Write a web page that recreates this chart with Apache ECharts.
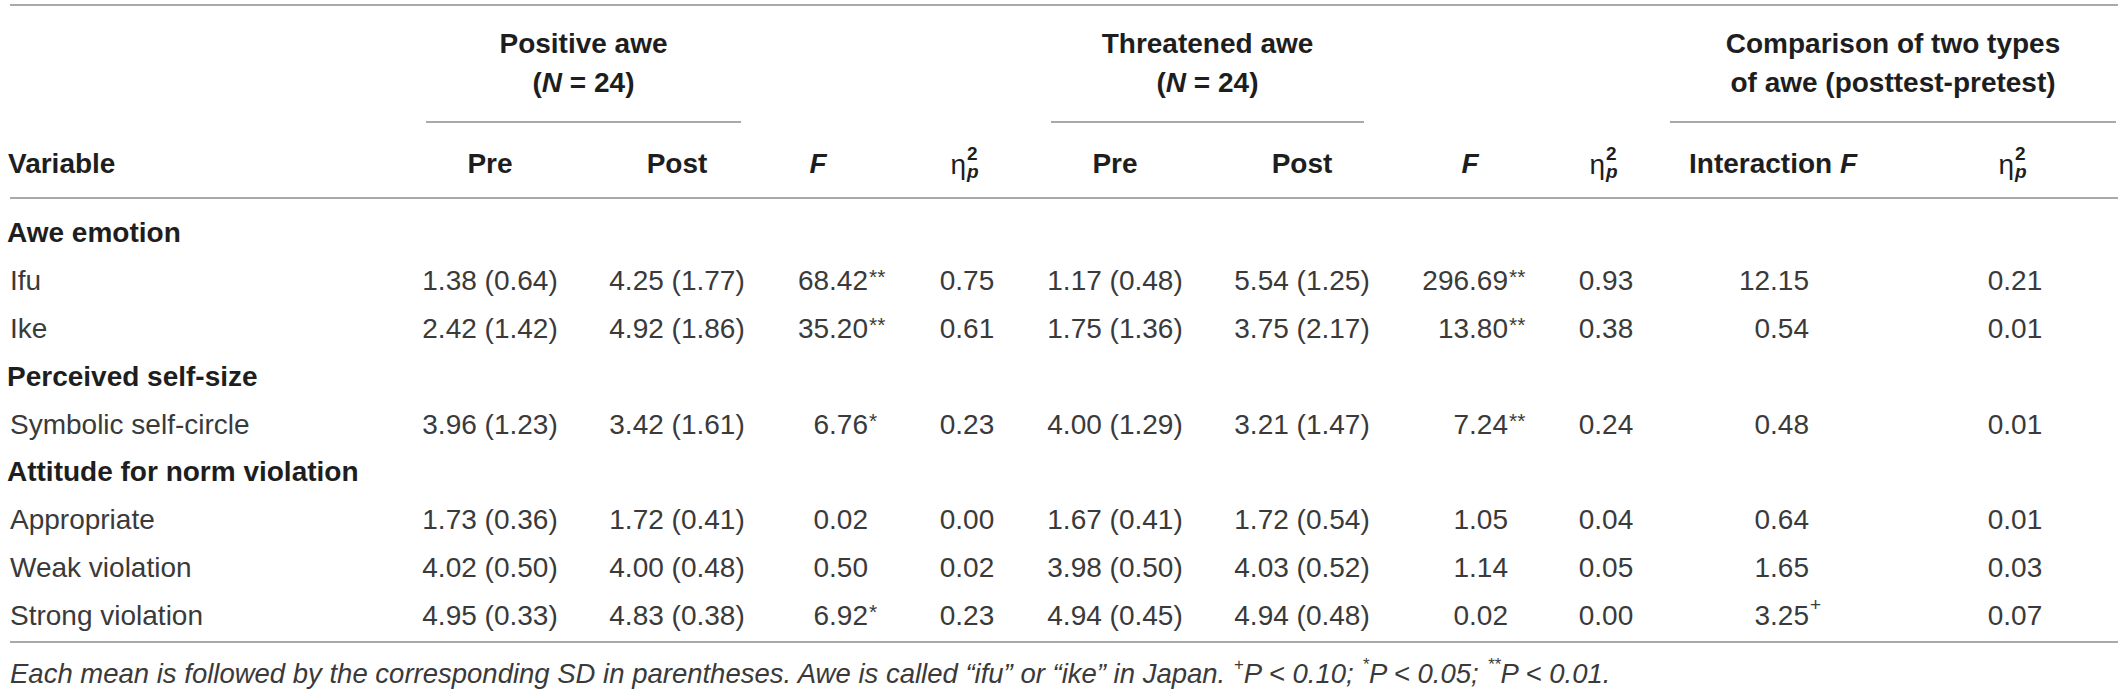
<!DOCTYPE html>
<html>
<head>
<meta charset="utf-8">
<script src="https://cdn.jsdelivr.net/npm/echarts@6/dist/echarts.min.js"></script>
<style>
  html, body { margin: 0; padding: 0; background: #fff; }
  #main { width: 2122px; height: 699px; }
</style>
</head>
<body>
<div id="main"></div>
<script>
// table rows (group headings have no values)
var rowLabels = ['Awe emotion', 'Ifu', 'Ike', 'Perceived self-size', 'Symbolic self-circle',
  'Attitude for norm violation', 'Appropriate', 'Weak violation', 'Strong violation'];
var groupRow = [true, false, false, true, false, true, false, false, false];

// positive awe (N = 24)
var posPreMean  = [null, 1.38, 2.42, null, 3.96, null, 1.73, 4.02, 4.95];
var posPreSD    = [null, 0.64, 1.42, null, 1.23, null, 0.36, 0.50, 0.33];
var posPostMean = [null, 4.25, 4.92, null, 3.42, null, 1.72, 4.00, 4.83];
var posPostSD   = [null, 1.77, 1.86, null, 1.61, null, 0.41, 0.48, 0.38];
var posF        = [null, 68.42, 35.20, null, 6.76, null, 0.02, 0.50, 6.92];
var posFSig     = [null, '**', '**', null, '*', null, '', '', '*'];
var posEta      = [null, 0.75, 0.61, null, 0.23, null, 0.00, 0.02, 0.23];

// threatened awe (N = 24)
var thrPreMean  = [null, 1.17, 1.75, null, 4.00, null, 1.67, 3.98, 4.94];
var thrPreSD    = [null, 0.48, 1.36, null, 1.29, null, 0.41, 0.50, 0.45];
var thrPostMean = [null, 5.54, 3.75, null, 3.21, null, 1.72, 4.03, 4.94];
var thrPostSD   = [null, 1.25, 2.17, null, 1.47, null, 0.54, 0.52, 0.48];
var thrF        = [null, 296.69, 13.80, null, 7.24, null, 1.05, 1.14, 0.02];
var thrFSig     = [null, '**', '**', null, '**', null, '', '', ''];
var thrEta      = [null, 0.93, 0.38, null, 0.24, null, 0.04, 0.05, 0.00];

// comparison of two types of awe
var intF        = [null, 12.15, 0.54, null, 0.48, null, 0.64, 1.65, 3.25];
var intFSig     = [null, '', '', null, '', null, '', '', '+'];
var intEta      = [null, 0.21, 0.01, null, 0.01, null, 0.01, 0.03, 0.07];

var groupTitles = [['Positive awe', '(N = 24)'], ['Threatened awe', '(N = 24)'],
  ['Comparison of two types', 'of awe (posttest-pretest)']];
var footnote = 'Each mean is followed by the corresponding SD in parentheses. Awe is called \u201cifu\u201d or \u201cike\u201d in Japan. ';

// layout (pixels)
var W = 2122;
var FONT = '"Liberation Sans", Arial, Helvetica, sans-serif';
var TXT = '#3a3a3a';
var HEAD = '#1e1e1e';
var RULE = '#a9a9a9';
// column anchors: c = centre, r = right edge of number
var col = {
  preP: 490, postP: 677, fP: 868, etaP: 967,
  preT: 1115, postT: 1302, fT: 1508, etaT: 1606,
  fI: 1809, etaI: 2015
};
var groupSpan = [[426, 741], [1051, 1364], [1670, 2116]];
var yTitle1 = 43, yTitle2 = 82, yGroupRule = 122, yHead = 163, yHeadRule = 198;
var yTop = 5, yBottomRule = 642, yNote = 673;

var myChart = echarts.init(document.getElementById('main'), null, { renderer: 'svg' });

function fmt(v) { return v.toFixed(2); }
function ms(m, s) { return fmt(m) + ' (' + fmt(s) + ')'; }

function txt(x, y, text, opt) {
  opt = opt || {};
  return {
    type: 'text', x: x, y: y, silent: true,
    style: {
      text: text,
      fill: opt.fill || TXT,
      fontFamily: FONT,
      fontSize: opt.size || 28,
      fontWeight: opt.weight || 'normal',
      fontStyle: opt.style || 'normal',
      align: opt.align || 'center',
      verticalAlign: 'middle',
      rich: opt.rich
    }
  };
}

function sigMark(x, y, s) {
  if (!s) return null;
  if (s === '+') return txt(x + 1, y - 11, '+', { size: 19, align: 'left' });
  return txt(x + 1, y - 4, s, { size: 21, align: 'left' });
}

function etaHead(cx, y) {
  return [
    txt(cx - 1, y + 1, '\u03b7', { size: 28, align: 'right', fill: HEAD }),
    txt(cx, y - 10, '2', { size: 19, weight: 'bold', align: 'left', fill: HEAD }),
    txt(cx, y + 8, 'p', { size: 19, weight: 'bold', style: 'italic', align: 'left', fill: HEAD })
  ];
}

function renderRow(params, api) {
  var i = params.dataIndex;
  var y = api.coord([0, i])[1];
  var px = function (v) { return api.coord([v, i])[0]; };
  var kids = [];
  if (groupRow[i]) {
    kids.push(txt(px(7), y, rowLabels[i], { weight: 'bold', align: 'left', fill: HEAD }));
    return { type: 'group', children: kids };
  }
  kids.push(txt(px(10), y, rowLabels[i], { align: 'left' }));
  kids.push(txt(px(col.preP), y, ms(posPreMean[i], posPreSD[i])));
  kids.push(txt(px(col.postP), y, ms(posPostMean[i], posPostSD[i])));
  kids.push(txt(px(col.fP), y, fmt(posF[i]), { align: 'right' }));
  kids.push(sigMark(px(col.fP), y, posFSig[i]));
  kids.push(txt(px(col.etaP), y, fmt(posEta[i])));
  kids.push(txt(px(col.preT), y, ms(thrPreMean[i], thrPreSD[i])));
  kids.push(txt(px(col.postT), y, ms(thrPostMean[i], thrPostSD[i])));
  kids.push(txt(px(col.fT), y, fmt(thrF[i]), { align: 'right' }));
  kids.push(sigMark(px(col.fT), y, thrFSig[i]));
  kids.push(txt(px(col.etaT), y, fmt(thrEta[i])));
  kids.push(txt(px(col.fI), y, fmt(intF[i]), { align: 'right' }));
  kids.push(sigMark(px(col.fI), y, intFSig[i]));
  kids.push(txt(px(col.etaI), y, fmt(intEta[i])));
  return { type: 'group', children: kids.filter(Boolean) };
}

function rule(x1, x2, y) {
  return {
    type: 'line', silent: true,
    shape: { x1: x1, y1: y, x2: x2, y2: y },
    style: { stroke: RULE, lineWidth: 2 }
  };
}

var bold = { fontFamily: FONT, fontSize: 28, fontWeight: 'bold', fill: HEAD };
var boldIt = { fontFamily: FONT, fontSize: 28, fontWeight: 'bold', fontStyle: 'italic', fill: HEAD };

var graphics = [
  rule(10, 2118, yTop),
  rule(10, 2118, yHeadRule),
  rule(10, 2118, yBottomRule)
];
groupTitles.forEach(function (t, g) {
  var cx = (groupSpan[g][0] + groupSpan[g][1]) / 2;
  graphics.push(txt(cx, yTitle1, t[0], { weight: 'bold', fill: HEAD }));
  var second = t[1].indexOf('N') >= 0 ? '{b|(}{bi|N}{b| = 24)}' : '{b|' + t[1] + '}';
  graphics.push(txt(cx, yTitle2, second, { rich: { b: bold, bi: boldIt } }));
  graphics.push(rule(groupSpan[g][0], groupSpan[g][1], yGroupRule));
});
graphics.push(txt(8, yHead, 'Variable', { weight: 'bold', align: 'left', fill: HEAD }));
[[col.preP, 'Pre'], [col.postP, 'Post'], [col.preT, 'Pre'], [col.postT, 'Post']].forEach(function (h) {
  graphics.push(txt(h[0], yHead, h[1], { weight: 'bold', fill: HEAD }));
});
graphics.push(txt(col.fP - 50, yHead, 'F', { weight: 'bold', style: 'italic', fill: HEAD }));
graphics.push(txt(col.fT - 38, yHead, 'F', { weight: 'bold', style: 'italic', fill: HEAD }));
graphics.push(txt(col.fI - 36, yHead, '{b|Interaction }{bi|F}', { rich: { b: bold, bi: boldIt } }));
graphics = graphics.concat(etaHead(col.etaP, yHead), etaHead(col.etaT, yHead), etaHead(col.etaI, yHead));

var it = { fontFamily: FONT, fontSize: 27.5, fontStyle: 'italic', fill: TXT, lineHeight: 34 };
var sup = { fontFamily: FONT, fontSize: 17, fontStyle: 'italic', fill: TXT, lineHeight: 17, verticalAlign: 'top' };
graphics.push(txt(10, yNote,
  '{i|' + footnote + '}{s|+}{i|P < 0.10; }{s|*}{i|P < 0.05; }{s|**}{i|P < 0.01.}',
  { align: 'left', rich: { i: it, s: sup } }));

var option = {
  backgroundColor: '#ffffff',
  animation: false,
  grid: { left: 0, right: 0, top: 209.1, bottom: 60.1 },
  xAxis: { type: 'value', min: 0, max: W, show: false },
  yAxis: { type: 'category', data: rowLabels, inverse: true, show: false },
  graphic: graphics,
  series: [{
    type: 'custom',
    renderItem: renderRow,
    data: rowLabels.map(function (l, i) { return [0, i]; })
  }]
};
myChart.setOption(option);
window.addEventListener('resize', function () {
  myChart.resize();
});
</script>
</body>
</html>
